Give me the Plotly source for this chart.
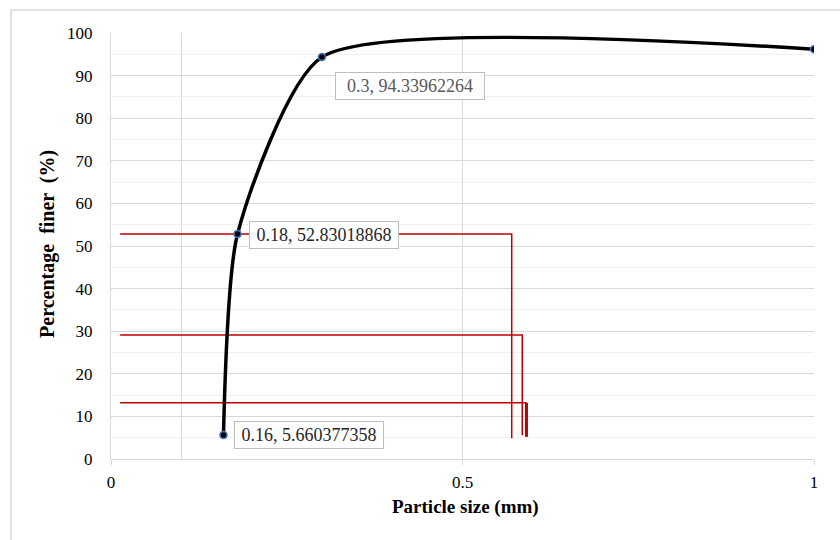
import plotly.graph_objects as go

# Data
size_mm = [0.16, 0.18, 0.3, 1.0]
pct_finer = [5.660377358, 52.83018868, 94.33962264, 96.2]
label_text = ["0.16, 5.660377358", "0.18, 52.83018868", "0.3, 94.33962264"]
label_x = [0.16, 0.18, 0.3]
label_y = [5.660377358, 52.83018868, 94.33962264]

# Red reference lines (D-value construction lines)
ref_a_x = [0.013, 0.570, 0.570]
ref_a_y = [52.83, 52.83, 4.9]
ref_b_x = [0.013, 0.585, 0.585]
ref_b_y = [29.1, 29.1, 5.6]
ref_c_x = [0.013, 0.591]
ref_c_y = [13.2, 13.2]
ref_c2_x = [0.591, 0.591]
ref_c2_y = [13.2, 5.2]

x_ticks = [0, 0.5, 1]
y_ticks = list(range(0, 101, 10))

FONT = "Liberation Serif"
RED = "#C00000"

fig = go.Figure()

for xs, ys, w in [(ref_a_x, ref_a_y, 1.5), (ref_b_x, ref_b_y, 1.5),
                  (ref_c_x, ref_c_y, 1.5), (ref_c2_x, ref_c2_y, 3)]:
    fig.add_trace(go.Scatter(x=xs, y=ys, mode="lines",
                             line=dict(color=RED, width=w),
                             hoverinfo="skip", showlegend=False))

fig.add_trace(go.Scatter(
    x=size_mm, y=pct_finer, mode="lines+markers",
    line=dict(color="black", width=3.5, shape="spline", smoothing=0.6),
    marker=dict(size=7, color="black", line=dict(color="#4472C4", width=1.5)),
    showlegend=False))

shifts = [(86, 0, "#262626"), (86, -1, "#262626"), (88, -29, "#595959")]
for t, lx, ly, (xs, ys, col) in zip(label_text, label_x, label_y, shifts):
    fig.add_annotation(x=lx, y=ly, xref="x", yref="y", text=t, showarrow=False,
                       xshift=xs, yshift=ys, xanchor="center", yanchor="middle",
                       font=dict(family=FONT, size=18, color=col),
                       bgcolor="white", bordercolor="#BFBFBF", borderwidth=1,
                       width=146, height=24, borderpad=1)

# Axis titles
fig.add_annotation(text="<b>Particle size (mm)</b>", xref="paper", yref="paper",
                   x=0.5036, y=-0.112, showarrow=False, xanchor="center", yanchor="middle",
                   font=dict(family=FONT, size=19, color="black"))
fig.add_annotation(text="<b>Percentage  finer  (%)</b>", xref="paper", yref="paper",
                   x=-0.0896, y=0.505, showarrow=False, textangle=-90,
                   xanchor="center", yanchor="middle",
                   font=dict(family=FONT, size=20, color="black"))

# Outer chart border
fig.add_shape(type="rect", xref="paper", yref="paper",
              x0=-0.1422, x1=1.05, y0=-0.21, y1=1.054,
              line=dict(color="#D9D9D9", width=1.5), layer="below")

fig.update_layout(
    width=840, height=540,
    margin=dict(l=111, r=26, t=33, b=81),
    paper_bgcolor="white", plot_bgcolor="white",
    font=dict(family=FONT, size=17, color="black"),
    xaxis=dict(range=[0, 1], tickvals=x_ticks, ticktext=["0", "0.5", "1"],
               tickfont=dict(family=FONT, size=17, color="black"),
               showgrid=True, gridcolor="#D9D9D9", gridwidth=1.3,
               showline=True, linecolor="#D9D9D9", linewidth=1.3,
               ticks="outside", ticklen=5, tickcolor="#D9D9D9",
               ticklabelstandoff=2, zeroline=False,
               minor=dict(tickmode="array", tickvals=[0.1], showgrid=True,
                          gridcolor="#D9D9D9", gridwidth=1.3, ticks="")),
    yaxis=dict(range=[0, 100], tickvals=y_ticks,
               tickfont=dict(family=FONT, size=17, color="black"),
               showgrid=True, gridcolor="#D9D9D9", gridwidth=1.3,
               showline=True, linecolor="#D9D9D9", linewidth=1.3,
               ticks="", ticklabelstandoff=14, zeroline=False,
               minor=dict(dtick=5, showgrid=True, gridcolor="#F0F0F0",
                          gridwidth=1.3, ticks="")),
)

fig.write_html("out.html")
